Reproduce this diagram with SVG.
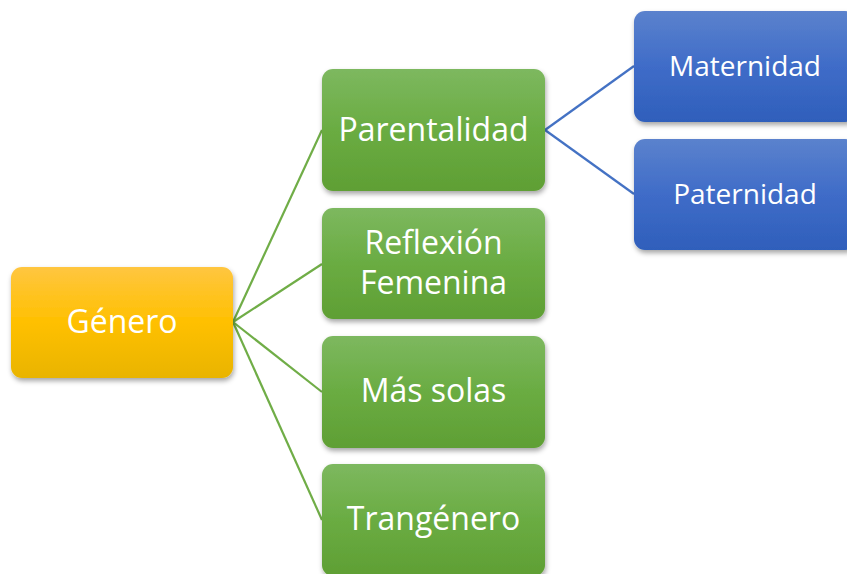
<svg xmlns="http://www.w3.org/2000/svg" width="847" height="574" viewBox="0 0 847 574">
<defs>
<linearGradient id="gY" x1="0" y1="0" x2="0" y2="1"><stop offset="0" stop-color="#ffc640"/><stop offset="0.5" stop-color="#ffc000"/><stop offset="1" stop-color="#e9b400"/></linearGradient>
<linearGradient id="gG" x1="0" y1="0" x2="0" y2="1"><stop offset="0" stop-color="#7db85f"/><stop offset="0.5" stop-color="#6aac42"/><stop offset="1" stop-color="#5f9f34"/></linearGradient>
<linearGradient id="gB" x1="0" y1="0" x2="0" y2="1"><stop offset="0" stop-color="#5b82cd"/><stop offset="0.5" stop-color="#3f6cc8"/><stop offset="1" stop-color="#2f5fbb"/></linearGradient>
<filter id="sh" x="-10%" y="-10%" width="125%" height="130%"><feDropShadow dx="1" dy="3" stdDeviation="2.5" flood-color="#000" flood-opacity="0.35"/></filter>
<style>
.box{filter:url(#sh)}
.y{fill:url(#gY)}
.g{fill:url(#gG)}
.b{fill:url(#gB)}
.t{font-family:"Open Sans","Noto Sans",sans-serif;fill:#fff;text-anchor:middle}
.big{font-size:32px}
.sm{font-size:28px}
.cg{stroke:#70ad47;stroke-width:2.2;fill:none}
.cb{stroke:#4472c4;stroke-width:2.2;fill:none}
</style>
</defs>
<g id="connectors">
<line class="cg" x1="233" y1="322" x2="322" y2="130"/>
<line class="cg" x1="233" y1="322" x2="322" y2="264"/>
<line class="cg" x1="233" y1="322" x2="322" y2="392"/>
<line class="cg" x1="233" y1="322" x2="322" y2="520"/>
<line class="cb" x1="545" y1="130" x2="634" y2="66"/>
<line class="cb" x1="545" y1="130" x2="634" y2="194"/>
</g>
<g id="genero"><rect class="box y" x="11" y="267" width="222" height="111" rx="11"/><text class="t big" x="122" y="333">Género</text></g>
<g id="parentalidad"><rect class="box g" x="322" y="69" width="223" height="122" rx="11"/><text class="t big" x="433.5" y="141">Parentalidad</text></g>
<g id="reflexion"><rect class="box g" x="322" y="208" width="223" height="111" rx="11"/><text class="t big" x="433.5" y="254">Reflexión</text><text class="t big" x="433.5" y="294">Femenina</text></g>
<g id="massolas"><rect class="box g" x="322" y="336" width="223" height="112" rx="11"/><text class="t big" x="433.5" y="402">Más solas</text></g>
<g id="trangenero"><rect class="box g" x="322" y="464" width="223" height="112" rx="11"/><text class="t big" x="433.5" y="530">Trangénero</text></g>
<g id="maternidad"><rect class="box b" x="634" y="11" width="222" height="111" rx="11"/><text class="t sm" x="745" y="76">Maternidad</text></g>
<g id="paternidad"><rect class="box b" x="634" y="139" width="222" height="111" rx="11"/><text class="t sm" x="745" y="204">Paternidad</text></g>
</svg>
